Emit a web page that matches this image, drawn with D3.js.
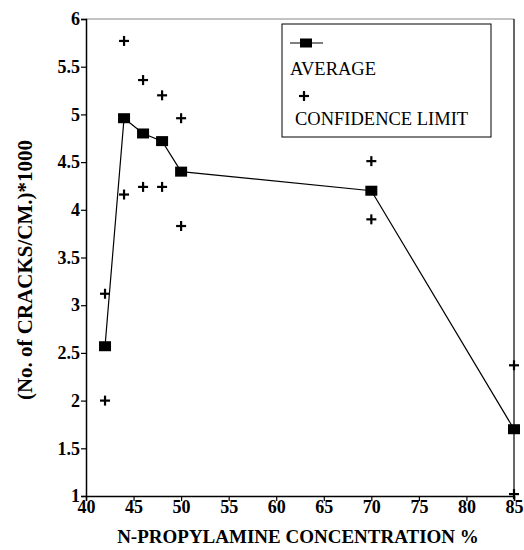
<!DOCTYPE html>
<html>
<head>
<meta charset="utf-8">
<script src="https://cdn.jsdelivr.net/npm/d3@7"></script>
<style>
  body { margin: 0; background: #fff; }
  text { font-family: "Liberation Serif", "Times New Roman", serif; fill: #000; }
</style>
</head>
<body>
<svg id="chart" width="524" height="550"></svg>
<script>
//chart data
var concentration = [42, 44, 46, 48, 50, 70, 85];
var average = [2.57, 4.96, 4.80, 4.72, 4.40, 4.20, 1.70];
var upperLimit = [3.12, 5.77, 5.36, 5.20, 4.96, 4.51, 2.37];
var lowerLimit = [2.00, 4.16, 4.24, 4.24, 3.83, 3.90, 1.02];
var xTicks = [40, 45, 50, 55, 60, 65, 70, 75, 80, 85];
var yTicks = [1, 1.5, 2, 2.5, 3, 3.5, 4, 4.5, 5, 5.5, 6];

var svg = d3.select("#chart");
//plot box (note: "top" is reserved by window, so use plot* names)
var plotLeft = 86, plotRight = 514, plotTop = 19, plotBottom = 496;

var x = d3.scaleLinear().domain([40, 85]).range([plotLeft, plotRight]);
var y = d3.scaleLinear().domain([1, 6]).range([plotBottom, plotTop]);

//frame
svg.append("line").attr("x1", plotLeft).attr("x2", plotRight).attr("y1", plotTop).attr("y2", plotTop)
  .attr("stroke", "#888").attr("stroke-width", 1.2);
svg.append("line").attr("x1", plotRight).attr("x2", plotRight).attr("y1", plotTop).attr("y2", plotBottom)
  .attr("stroke", "#000").attr("stroke-width", 1.2);

//axes
var xAxis = svg.append("g").attr("transform", "translate(0," + plotBottom + ")")
  .call(d3.axisBottom(x).tickValues(xTicks).tickSize(5).tickFormat(d3.format("d")));
var yAxis = svg.append("g").attr("transform", "translate(" + plotLeft + ",0)")
  .call(d3.axisLeft(y).tickValues(yTicks).tickSize(5).tickFormat(function(d){ return String(d); }));

[xAxis, yAxis].forEach(function(a){
  a.attr("font-size", 18).attr("font-weight", "bold");
  a.select(".domain").attr("stroke", "#000").attr("stroke-width", 1.5);
  a.selectAll(".tick line").attr("stroke", "#000").attr("stroke-width", 1.2);
  a.selectAll(".tick text")
    .style("font-family", "'Liberation Serif', serif")
    .style("font-weight", "bold")
    .style("font-size", "18px")
    .attr("fill", "#000");
});
xAxis.selectAll(".tick text").attr("dy", "0.55em").attr("y", 7);
yAxis.selectAll(".tick text").attr("x", -6);

//axis titles
svg.append("text")
  .attr("x", (plotLeft + plotRight) / 2 - 2).attr("y", 543)
  .attr("text-anchor", "middle")
  .attr("font-weight", "bold").attr("font-size", 19)
  .text("N-PROPYLAMINE CONCENTRATION %");

svg.append("text")
  .attr("transform", "translate(32," + 270 + ") rotate(-90)")
  .attr("text-anchor", "middle")
  .attr("font-weight", "bold").attr("font-size", 21)
  .text("(No. of CRACKS/CM.)*1000");

//average line
var line = d3.line()
  .x(function(d, i){ return x(concentration[i]); })
  .y(function(d){ return y(d); });

svg.append("path").datum(average)
  .attr("d", line).attr("fill", "none").attr("stroke", "#000").attr("stroke-width", 1.2);

svg.selectAll(".avg").data(average).enter().append("rect")
  .attr("class", "avg")
  .attr("x", function(d, i){ return x(concentration[i]) - 6; })
  .attr("y", function(d){ return y(d) - 5; })
  .attr("width", 12).attr("height", 10)
  .attr("fill", "#000");

//confidence limit crosses
function cross(g, cx, cy){
  g.append("line").attr("x1", cx - 5).attr("x2", cx + 5).attr("y1", cy).attr("y2", cy)
    .attr("stroke", "#000").attr("stroke-width", 2.2);
  g.append("line").attr("x1", cx).attr("x2", cx).attr("y1", cy - 5).attr("y2", cy + 5)
    .attr("stroke", "#000").attr("stroke-width", 2.2);
}
var crosses = svg.append("g");
concentration.forEach(function(c, i){
  cross(crosses, x(c), y(upperLimit[i]));
  cross(crosses, x(c), y(lowerLimit[i]));
});

//legend
var legend = svg.append("g");
legend.append("rect").attr("x", 282).attr("y", 24).attr("width", 209).attr("height", 113)
  .attr("fill", "#fff").attr("stroke", "#000").attr("stroke-width", 1);
legend.append("line").attr("x1", 290).attr("x2", 323).attr("y1", 43).attr("y2", 43)
  .attr("stroke", "#000").attr("stroke-width", 1.2);
legend.append("rect").attr("x", 300).attr("y", 38.5).attr("width", 12).attr("height", 9).attr("fill", "#000");
legend.append("text").attr("x", 290).attr("y", 75).attr("font-size", 18.5).text("AVERAGE");
cross(legend, 304, 96);
legend.append("text").attr("x", 295).attr("y", 125).attr("font-size", 18.5).text("CONFIDENCE LIMIT");
</script>
</body>
</html>
